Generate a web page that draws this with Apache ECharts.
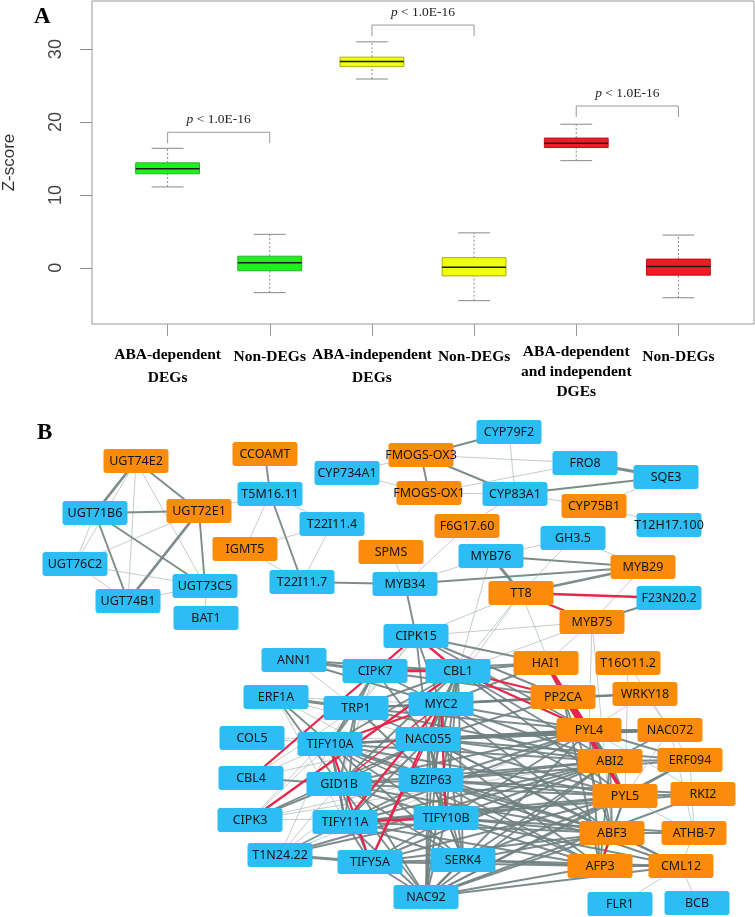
<!DOCTYPE html>
<html><head><meta charset="utf-8">
<script src="https://cdn.jsdelivr.net/npm/echarts@6/dist/echarts.min.js"></script>
<style>html,body{margin:0;padding:0;background:#fff}#c{width:755px;height:917px}</style>
</head><body><div id="c"></div>
<script>
// ================= Panel A data =================
const categories = ['ABA-dependent\nDEGs', 'Non-DEGs', 'ABA-independent\nDEGs', 'Non-DEGs', 'ABA-dependent\nand independent\nDGEs', 'Non-DEGs'];
const whiskerLow  = [11.1, -3.4, 25.9, -4.5, 14.7, -4.1];
const quartile1   = [12.9, -0.4, 27.6, -1.1, 16.5, -1.0];
const medians     = [13.6,  0.7, 28.3,  0.1, 17.1,  0.2];
const quartile3   = [14.4,  1.6, 28.9,  1.4, 17.8,  1.2];
const whiskerHigh = [16.4,  4.6, 31.0,  4.8, 19.7,  4.5];
const yTicks = [0, 10, 20, 30];
const comparisonPairs = [[1, 2], [3, 4], [5, 6]];
const bracketLevels = [18.6, 33.3, 22.2];
const pValueText = ['< 1.0E-16', '< 1.0E-16', '< 1.0E-16'];

// ================= Panel B data =================
const geneNames = ['UGT74E2','CCOAMT','CYP734A1','T5M16.11','UGT71B6','UGT72E1','T22I11.4','IGMT5','UGT76C2','UGT73C5','T22I11.7','UGT74B1','BAT1',
  'CYP79F2','FMOGS-OX3','FRO8','SQE3','FMOGS-OX1','CYP83A1','CYP75B1','T12H17.100','F6G17.60','GH3.5','SPMS','MYB76','MYB29','MYB34','TT8','F23N20.2','MYB75',
  'CIPK15','HAI1','T16O11.2','CBL1','CIPK7','ANN1','PP2CA','WRKY18','ERF1A','TRP1','MYC2','PYL4','NAC072','COL5','TIFY10A','NAC055','ABI2','ERF094',
  'CBL4','GID1B','BZIP63','PYL5','RKI2','CIPK3','TIFY11A','TIFY10B','ABF3','ATHB-7','T1N24.22','TIFY5A','SERK4','AFP3','CML12','NAC92','FLR1','BCB'];
const geneGroup = ['o','o','b','b','b','o','b','o','b','b','b','b','b',
  'b','o','b','b','o','b','o','b','o','b','o','b','o','b','o','b','o',
  'b','o','o','b','b','b','o','o','b','b','b','o','o','b','b','b','o','o',
  'b','b','b','o','o','b','b','b','o','o','b','b','b','o','o','b','b','b'];
// manual network layout (as laid out in the figure)
const layoutX = [136,265,347,270,95,199,332,245,75,205,302,128,206,
  509,421,585,666,429,515,594,669,467,573,391,491,643,405,521,669,592,
  416,546,628,458,375,294,563,645,276,356,441,589,670,252,330,428,610,690,
  251,339,431,625,703,250,345,446,612,694,280,370,463,600,681,426,620,697];
const layoutY = [461,454,473,494,513,511,524,549,564,586,582,601,618,
  432,455,463,477,493,494,506,525,526,538,552,556,567,584,593,598,622,
  636,663,663,671,671,660,697,694,697,708,704,730,730,738,744,739,761,760,
  778,784,780,796,794,820,822,818,833,833,855,862,860,866,866,897,904,903];
// [source, target, strength (1 weak .. 3 strong), kind ('g' inferred, 'r' known)]
const interactions = [
  ['UGT74E2','UGT71B6',3,'g'],['UGT74E2','UGT72E1',2,'g'],['UGT74E2','UGT74B1',1,'g'],['UGT74E2','UGT73C5',1,'g'],['UGT74E2','UGT76C2',1,'g'],
  ['UGT71B6','UGT72E1',2,'g'],['UGT71B6','UGT74B1',2,'g'],['UGT71B6','UGT73C5',2,'g'],['UGT71B6','UGT76C2',1,'g'],
  ['UGT72E1','UGT74B1',3,'g'],['UGT72E1','UGT73C5',2,'g'],['UGT72E1','UGT76C2',1,'g'],['UGT72E1','T5M16.11',1,'g'],
  ['UGT76C2','UGT73C5',1,'g'],['UGT76C2','UGT74B1',1,'g'],['UGT73C5','BAT1',1,'g'],['UGT73C5','UGT74B1',1,'g'],
  ['CCOAMT','T5M16.11',2,'g'],['T5M16.11','IGMT5',1,'g'],['T5M16.11','T22I11.7',2,'g'],['T5M16.11','T22I11.4',1,'g'],
  ['T22I11.4','IGMT5',1,'g'],['T22I11.4','T22I11.7',1,'g'],['IGMT5','T22I11.7',1,'g'],['T22I11.7','MYB34',2,'g'],
  ['CYP734A1','FMOGS-OX3',1,'g'],['CYP734A1','FMOGS-OX1',1,'g'],['FMOGS-OX3','CYP79F2',2,'g'],['FMOGS-OX3','FMOGS-OX1',2,'g'],
  ['FMOGS-OX3','CYP83A1',2,'g'],['FMOGS-OX3','FRO8',1,'g'],['FMOGS-OX1','CYP83A1',1,'g'],['FMOGS-OX1','FRO8',1,'g'],
  ['CYP79F2','CYP83A1',1,'g'],['FRO8','SQE3',3,'g'],['CYP83A1','SQE3',2,'g'],['CYP83A1','CYP75B1',1,'g'],['CYP83A1','F6G17.60',1,'g'],
  ['CYP75B1','SQE3',1,'g'],['CYP75B1','T12H17.100',1,'g'],['F6G17.60','MYB34',1,'g'],['SPMS','MYB34',1,'g'],
  ['MYB34','MYB76',1,'g'],['MYB34','MYB29',2,'g'],['MYB34','CIPK15',2,'g'],['MYB76','GH3.5',1,'g'],['MYB76','MYB29',2,'g'],
  ['MYB76','TT8',3,'g'],['MYB76','CBL1',1,'g'],['GH3.5','MYB29',1,'g'],['GH3.5','TT8',1,'g'],['TT8','MYB29',3,'g'],
  ['MYB75','F23N20.2',2,'g'],['MYB75','MYB29',1,'g'],['TT8','CIPK15',1,'g'],['TT8','CBL1',1,'g'],['TT8','MYC2',1,'g'],['TT8','PP2CA',1,'g'],
  ['MYB75','CIPK15',1,'g'],['MYB75','CBL1',1,'g'],['MYB75','HAI1',1,'g'],['MYB75','PYL4',1,'g'],['MYB75','ABF3',1,'g'],
  ['T16O11.2','PYL5',1,'g'],['T16O11.2','NAC072',1,'g'],
  ['ANN1','CIPK7',3,'g'],['ANN1','CBL1',2,'g'],['ANN1','TRP1',1,'g'],['ANN1','MYC2',2,'g'],
  ['ERF1A','TRP1',3,'g'],['ERF1A','TIFY10A',2,'g'],['ERF1A','GID1B',2,'g'],['ERF1A','NAC055',1,'g'],['ERF1A','MYC2',1,'g'],['ERF1A','BZIP63',1,'g'],['ERF1A','TIFY11A',1,'g'],
  ['COL5','TIFY10A',1,'g'],['COL5','NAC055',1,'g'],
  ['CBL4','GID1B',2,'g'],['CBL4','TIFY10A',1,'g'],['CBL4','NAC055',1,'g'],['CBL4','TRP1',1,'g'],
  ['CIPK3','GID1B',2,'g'],['CIPK3','TIFY10A',1,'g'],['CIPK3','NAC055',2,'g'],['CIPK3','TRP1',1,'g'],['CIPK3','BZIP63',1,'g'],['CIPK3','TIFY10B',1,'g'],['CIPK3','ABI2',1,'g'],
  ['T1N24.22','TIFY5A',3,'g'],['T1N24.22','TIFY11A',2,'g'],['T1N24.22','GID1B',1,'g'],['T1N24.22','TIFY10A',1,'g'],['T1N24.22','TIFY10B',2,'g'],
  ['T1N24.22','ABI2',2,'g'],['T1N24.22','PYL4',1,'g'],['T1N24.22','BZIP63',1,'g'],['T1N24.22','NAC055',1,'g'],
  ['CIPK15','MYC2',2,'g'],['CIPK15','NAC055',2,'g'],['CIPK15','TRP1',1,'g'],['CIPK15','HAI1',2,'g'],['CIPK15','PP2CA',2,'g'],['CIPK15','PYL4',2,'g'],['CIPK15','TIFY10A',1,'g'],
  ['CIPK7','TRP1',2,'g'],['CIPK7','MYC2',2,'g'],['CIPK7','TIFY10A',2,'g'],['CIPK7','NAC055',2,'g'],['CIPK7','GID1B',1,'g'],['CIPK7','PP2CA',2,'g'],['CIPK7','HAI1',2,'g'],
  ['CBL1','MYC2',2,'g'],['CBL1','NAC055',2,'g'],['CBL1','BZIP63',2,'g'],['CBL1','TIFY10B',2,'g'],['CBL1','SERK4',2,'g'],['CBL1','NAC92',2,'g'],
  ['CBL1','HAI1',2,'g'],['CBL1','ABI2',2,'g'],['CBL1','PYL5',2,'g'],['CBL1','TRP1',2,'g'],['CBL1','TIFY10A',2,'g'],['CBL1','GID1B',2,'g'],
  ['TRP1','MYC2',2,'g'],['TRP1','TIFY10A',2,'g'],['TRP1','NAC055',2,'g'],['TRP1','GID1B',2,'g'],['TRP1','TIFY11A',2,'g'],['TRP1','BZIP63',2,'g'],
  ['TRP1','PYL4',2,'g'],['TRP1','PP2CA',2,'g'],['TRP1','ABI2',2,'g'],
  ['MYC2','NAC055',2,'g'],['MYC2','BZIP63',2,'g'],['MYC2','PP2CA',2,'g'],['MYC2','PYL4',2,'g'],['MYC2','ABI2',2,'g'],['MYC2','PYL5',2,'g'],
  ['MYC2','ABF3',2,'g'],['MYC2','SERK4',2,'g'],['MYC2','NAC92',2,'g'],['MYC2','WRKY18',2,'g'],['MYC2','HAI1',2,'g'],
  ['TIFY10A','NAC055',2,'g'],['TIFY10A','GID1B',2,'g'],['TIFY10A','BZIP63',2,'g'],['TIFY10A','TIFY11A',2,'g'],['TIFY10A','TIFY10B',2,'g'],
  ['TIFY10A','PYL4',2,'g'],['TIFY10A','ABI2',2,'g'],['TIFY10A','PYL5',2,'g'],['TIFY10A','ABF3',2,'g'],['TIFY10A','AFP3',2,'g'],
  ['TIFY10A','NAC072',2,'g'],['TIFY10A','SERK4',2,'g'],['TIFY10A','NAC92',2,'g'],
  ['NAC055','GID1B',2,'g'],['NAC055','BZIP63',2,'g'],['NAC055','TIFY11A',2,'g'],['NAC055','TIFY10B',2,'g'],['NAC055','PYL4',3,'g'],
  ['NAC055','NAC072',3,'g'],['NAC055','ABI2',2,'g'],['NAC055','PYL5',2,'g'],['NAC055','ABF3',2,'g'],['NAC055','AFP3',2,'g'],
  ['NAC055','ERF094',2,'g'],['NAC055','PP2CA',2,'g'],['NAC055','SERK4',2,'g'],['NAC055','NAC92',2,'g'],['NAC055','CML12',2,'g'],
  ['GID1B','BZIP63',2,'g'],['GID1B','TIFY11A',2,'g'],['GID1B','TIFY10B',2,'g'],['GID1B','TIFY5A',2,'g'],['GID1B','PYL4',2,'g'],
  ['GID1B','ABI2',2,'g'],['GID1B','PYL5',2,'g'],['GID1B','ABF3',2,'g'],['GID1B','NAC92',2,'g'],['GID1B','SERK4',2,'g'],
  ['BZIP63','TIFY11A',2,'g'],['BZIP63','TIFY10B',2,'g'],['BZIP63','PYL4',2,'g'],['BZIP63','ABI2',2,'g'],['BZIP63','PYL5',2,'g'],
  ['BZIP63','ABF3',2,'g'],['BZIP63','AFP3',2,'g'],['BZIP63','ERF094',2,'g'],['BZIP63','RKI2',2,'g'],['BZIP63','NAC92',2,'g'],
  ['BZIP63','SERK4',2,'g'],['BZIP63','CML12',2,'g'],
  ['TIFY11A','TIFY5A',2,'g'],['TIFY11A','PYL4',2,'g'],['TIFY11A','ABI2',2,'g'],['TIFY11A','PYL5',2,'g'],['TIFY11A','ABF3',2,'g'],
  ['TIFY11A','AFP3',2,'g'],['TIFY11A','NAC92',2,'g'],['TIFY11A','SERK4',2,'g'],['TIFY11A','RKI2',2,'g'],
  ['TIFY10B','TIFY5A',2,'g'],['TIFY10B','SERK4',2,'g'],['TIFY10B','NAC92',2,'g'],['TIFY10B','ABI2',2,'g'],['TIFY10B','PYL5',2,'g'],
  ['TIFY10B','ABF3',2,'g'],['TIFY10B','AFP3',2,'g'],['TIFY10B','CML12',2,'g'],['TIFY10B','ATHB-7',2,'g'],['TIFY10B','PYL4',2,'g'],
  ['TIFY5A','NAC92',2,'g'],['TIFY5A','SERK4',2,'g'],['TIFY5A','ABF3',2,'g'],['TIFY5A','AFP3',2,'g'],['TIFY5A','PYL5',2,'g'],['TIFY5A','ABI2',2,'g'],
  ['SERK4','NAC92',2,'g'],['SERK4','AFP3',2,'g'],['SERK4','ABF3',2,'g'],['SERK4','PYL5',2,'g'],['SERK4','CML12',2,'g'],['SERK4','ABI2',2,'g'],
  ['NAC92','AFP3',2,'g'],['NAC92','ABF3',2,'g'],['NAC92','PYL5',2,'g'],['NAC92','ABI2',2,'g'],['NAC92','PYL4',2,'g'],
  ['NAC92','CML12',2,'g'],['NAC92','ERF094',2,'g'],['NAC92','RKI2',2,'g'],
  ['HAI1','PP2CA',2,'g'],['HAI1','ABI2',2,'g'],['PP2CA','WRKY18',2,'g'],['PP2CA','PYL4',2,'g'],['PP2CA','ABI2',2,'g'],['PP2CA','ABF3',2,'g'],['PP2CA','AFP3',2,'g'],
  ['PYL4','NAC072',3,'g'],['PYL4','ABI2',2,'g'],['PYL4','PYL5',2,'g'],['PYL4','ABF3',2,'g'],['PYL4','AFP3',2,'g'],['PYL4','ERF094',2,'g'],['PYL4','RKI2',1,'g'],
  ['ABI2','ERF094',2,'g'],['ABI2','PYL5',2,'g'],['ABI2','ABF3',2,'g'],['ABI2','AFP3',2,'g'],['ABI2','NAC072',2,'g'],
  ['PYL5','RKI2',2,'g'],['PYL5','ERF094',2,'g'],['PYL5','NAC072',1,'g'],['PYL5','ABF3',2,'g'],['PYL5','AFP3',2,'g'],['PYL5','ATHB-7',1,'g'],
  ['ABF3','ATHB-7',2,'g'],['ABF3','CML12',2,'g'],['AFP3','CML12',2,'g'],['ATHB-7','CML12',1,'g'],['CML12','BCB',1,'g'],['CML12','FLR1',1,'g'],
  ['NAC072','ERF094',1,'g'],['NAC072','ATHB-7',1,'g'],['ERF094','ATHB-7',1,'g'],['WRKY18','NAC072',1,'g'],['WRKY18','PYL4',1,'g'],
  // known interactions
  ['TT8','F23N20.2',2,'r'],['TT8','MYB75',2,'r'],['CIPK15','CBL1',2,'r'],['CIPK7','CBL1',2,'r'],['CIPK15','CIPK7',1,'r'],['CIPK15','CBL4',2,'r'],
  ['CBL1','CIPK3',2,'r'],['CBL1','PP2CA',2,'r'],['CBL1','PYL4',2,'r'],['MYC2','TIFY10A',2,'r'],['MYC2','TIFY11A',2,'r'],['MYC2','TIFY10B',2,'r'],
  ['MYC2','TIFY5A',2,'r'],['MYC2','GID1B',1,'r'],['TIFY10A','TIFY5A',2,'r'],['TIFY11A','TIFY10B',2,'r'],['NAC055','TIFY5A',1,'r'],
  ['HAI1','PYL4',3,'r'],['HAI1','PYL5',3,'r'],['PP2CA','PYL5',2,'r'],['ABF3','AFP3',2,'r']
];

// ================= styling =================
const boxFill   = ['#1ef01e','#1ef01e','#eeff12','#eeff12','#ee1c24','#ee1c24'];
const boxStroke = ['#22b522','#22b522','#a9b000','#a9b000','#c01018','#c01018'];
const nodeColor = { o: '#fb8b0a', b: '#2bbdf4' };
const BOX_W = 0.625;
const serif = 'Liberation Serif';

function labelRich(cat) {
  const lines = cat.split('\n');
  if (lines.length === 1) return '{s1|' + lines[0] + '}';
  if (lines.length === 2) return '{s2|' + lines[0] + '}\n{n|' + lines[1] + '}';
  return lines.map(l => '{n|' + l + '}').join('\n');
}
const lblBase = { fontFamily: serif, fontWeight: 'bold', fontSize: 15.5, color: '#000' };

const chart = echarts.init(document.getElementById('c'), null, { renderer: 'canvas' });

const boxData = categories.map((c, i) => [i + 1, whiskerLow[i], quartile1[i], medians[i], quartile3[i], whiskerHigh[i], i]);
const bracketData = comparisonPairs.map((p, i) => [p[0], p[1], bracketLevels[i], i]);

const option = {
  animation: false,
  backgroundColor: '#fff',
  title: [
    { text: 'A', left: 29, top: 1, textStyle: { fontFamily: serif, fontWeight: 'bold', fontSize: 23, color: '#000' } },
    { text: 'B', left: 32, top: 417, textStyle: { fontFamily: serif, fontWeight: 'bold', fontSize: 23, color: '#000' } }
  ],
  grid: [
    { left: 92, top: 1, width: 662, height: 323, show: true, borderColor: '#999', borderWidth: 1, backgroundColor: 'transparent',
      containLabel: false, outerBoundsMode: 'none' },
    { left: 0, top: 0, width: 755, height: 917, show: false, containLabel: false, outerBoundsMode: 'none' }
  ],
  xAxis: [
    { gridIndex: 0, type: 'value', min: 0.26, max: 6.74, position: 'bottom',
      axisLine: { show: false, onZero: false }, splitLine: { show: false },
      axisTick: { show: true, inside: false, length: 12, customValues: [1,2,3,4,5,6], lineStyle: { color: '#999' } },
      axisLabel: { show: true, margin: 18, customValues: [1,2,3,4,5,6],
        formatter: v => labelRich(categories[Math.round(v) - 1]),
        rich: {
          s1: Object.assign({ lineHeight: 30 }, lblBase),
          s2: Object.assign({ lineHeight: 26 }, lblBase),
          n: Object.assign({ lineHeight: 20 }, lblBase)
        } } },
    { gridIndex: 1, type: 'value', min: 0, max: 755, show: false }
  ],
  yAxis: [
    { gridIndex: 0, type: 'value', min: -7.7, max: 36.6, position: 'left',
      name: 'Z-score', nameLocation: 'middle', nameGap: 74, nameRotate: 90,
      nameTextStyle: { fontFamily: 'Liberation Sans', fontSize: 17, color: '#333' },
      axisLine: { show: false, onZero: false }, splitLine: { show: false },
      axisTick: { show: true, inside: false, length: 12, customValues: yTicks, lineStyle: { color: '#8c8c8c', width: 1 } },
      axisLabel: { customValues: yTicks, rotate: 90, margin: 27, fontFamily: 'Liberation Sans', fontSize: 18, color: '#444' } },
    { gridIndex: 1, type: 'value', min: 0, max: 917, inverse: true, show: false }
  ],
  series: [
    {
      type: 'custom', xAxisIndex: 0, yAxisIndex: 0, silent: true,
      data: boxData,
      renderItem: function (params, api) {
        const x = api.value(0);
        const ci = api.value(6);
        const cx = api.coord([x, 0])[0];
        const yy = k => api.coord([x, api.value(k)])[1];
        const yLo = yy(1), yQ1 = yy(2), yMed = yy(3), yQ3 = yy(4), yHi = yy(5);
        const w = api.size([BOX_W, 0])[0];
        const half = w / 2, cap = w / 4;
        const dot = { stroke: '#888', lineWidth: 1, lineDash: [2, 2] };
        const solid = { stroke: '#888', lineWidth: 1 };
        return { type: 'group', children: [
          { type: 'line', shape: { x1: cx, y1: yLo, x2: cx, y2: yQ1 }, style: dot },
          { type: 'line', shape: { x1: cx, y1: yQ3, x2: cx, y2: yHi }, style: dot },
          { type: 'line', shape: { x1: cx - cap, y1: yLo, x2: cx + cap, y2: yLo }, style: solid },
          { type: 'line', shape: { x1: cx - cap, y1: yHi, x2: cx + cap, y2: yHi }, style: solid },
          { type: 'rect', shape: { x: cx - half, y: yQ3, width: w, height: yQ1 - yQ3 }, style: { fill: boxFill[ci], stroke: boxStroke[ci], lineWidth: 1 } },
          { type: 'line', shape: { x1: cx - half, y1: yMed, x2: cx + half, y2: yMed }, style: { stroke: '#1a1a1a', lineWidth: 1.5 } }
        ] };
      }
    },
    {
      type: 'custom', xAxisIndex: 0, yAxisIndex: 0, silent: true,
      data: bracketData,
      renderItem: function (params, api) {
        const p1 = api.coord([api.value(0), api.value(2)]);
        const p2 = api.coord([api.value(1), api.value(2)]);
        const drop = 11;
        const i = api.value(3);
        return { type: 'group', children: [
          { type: 'polyline', shape: { points: [[p1[0], p1[1] + drop], p1, p2, [p2[0], p2[1] + drop]] }, style: { stroke: '#999', lineWidth: 1, fill: null } },
          { type: 'text', x: (p1[0] + p2[0]) / 2, y: p1[1] - 13,
            style: { text: '{i|p} ' + pValueText[i], textAlign: 'center', textVerticalAlign: 'middle',
              fontFamily: serif, fontSize: 13.5, fill: '#222',
              rich: { i: { fontFamily: serif, fontSize: 13.5, fontStyle: 'italic', fill: '#222' } } } }
        ] };
      }
    },
    {
      type: 'graph', coordinateSystem: 'cartesian2d', xAxisIndex: 1, yAxisIndex: 1, silent: true,
      symbol: 'path://M3,0H62Q65,0 65,3V21Q65,24 62,24H3Q0,24 0,21V3Q0,0 3,0Z',
      symbolSize: [65, 24], symbolKeepAspect: false,
      data: geneNames.map((n, i) => ({ name: n, value: [layoutX[i], layoutY[i]], itemStyle: { color: nodeColor[geneGroup[i]] } })),
      links: interactions.map(e => {
        const red = e[3] === 'r';
        const w = red ? [0, 1.5, 2.3, 3.5][e[2]] : [0, 0.7, 1.9, 2.8][e[2]];
        const col = red ? '#e8264c' : (e[2] === 1 ? '#a3adad' : '#6f7f7f');
        return { source: e[0], target: e[1], lineStyle: { width: w, color: col, opacity: red ? 1 : 0.9, curveness: 0 } };
      }),
      label: { show: true, position: 'inside', fontFamily: 'Noto Sans', fontSize: 12.5, color: '#151515' },
      emphasis: { disabled: true }
    }
  ]
};
chart.setOption(option);
</script></body></html>
